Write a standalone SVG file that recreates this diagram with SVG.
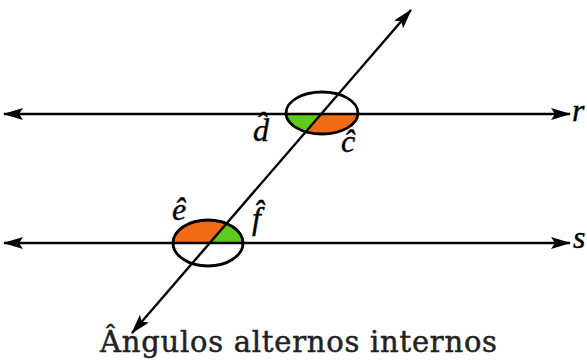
<svg xmlns="http://www.w3.org/2000/svg" width="587" height="363" viewBox="0 0 587 363">
<style>
.ln{stroke:#000;stroke-width:2.4;fill:none}
.el{stroke:#000;stroke-width:2.8;fill:none}
.lbl{font-family:"Liberation Serif","Times New Roman",serif;font-style:italic;font-size:32px;fill:#000;stroke:#000;stroke-width:0.4}
.cap{font-family:"DejaVu Serif","Liberation Serif",serif;font-size:29px;fill:#222;stroke:#222;stroke-width:0.5}
.g{fill:#5ecb1c}
.o{fill:#f26a14}
</style>
<defs>
<marker id="ah" viewBox="0 0 20 12" refX="19" refY="6" markerWidth="20" markerHeight="12" markerUnits="userSpaceOnUse" orient="auto-start-reverse">
<path d="M0,0 L20,6 L0,12 L4,6 Z" fill="#000"/>
</marker>
<clipPath id="c1"><ellipse cx="322" cy="113" rx="36" ry="21"/></clipPath>
<clipPath id="c2"><ellipse cx="208" cy="243" rx="35" ry="23"/></clipPath>
</defs>
<g id="fills">
<g clip-path="url(#c1)">
<polygon class="g" points="280,114 320.5,114 298.1,140 280,140"/>
<polygon class="o" points="320.5,114 370,114 370,140 298.1,140"/>
</g>
<g clip-path="url(#c2)">
<polygon class="o" points="165,215 233.5,215 209.4,243 165,243"/>
<polygon class="g" points="233.5,215 250,215 250,243 209.4,243"/>
</g>
</g>
<g id="connectors">
<line id="r-line" class="ln" x1="4" y1="114" x2="570" y2="114" marker-start="url(#ah)" marker-end="url(#ah)"/>
<line id="s-line" class="ln" x1="4" y1="243" x2="570" y2="243" marker-start="url(#ah)" marker-end="url(#ah)"/>
<line id="transversal" class="ln" x1="132" y1="333" x2="411" y2="10" marker-start="url(#ah)" marker-end="url(#ah)"/>
</g>
<g id="angle-top">
<ellipse class="el" cx="322" cy="113" rx="36" ry="21"/>
</g>
<g id="angle-bottom">
<ellipse class="el" cx="208" cy="243" rx="35" ry="23"/>
</g>
<g id="labels">
<text class="lbl" x="253" y="141">d̂</text>
<text class="lbl" x="341" y="152">ĉ</text>
<text class="lbl" x="172" y="220">ê</text>
<text class="lbl" x="252" y="229">f̂</text>
<text class="lbl" x="572" y="121">r</text>
<text class="lbl" x="573" y="248">s</text>
</g>
<g id="caption">
<text class="cap" x="100" y="352" textLength="397" lengthAdjust="spacing">Ângulos alternos internos</text>
</g>
</svg>
